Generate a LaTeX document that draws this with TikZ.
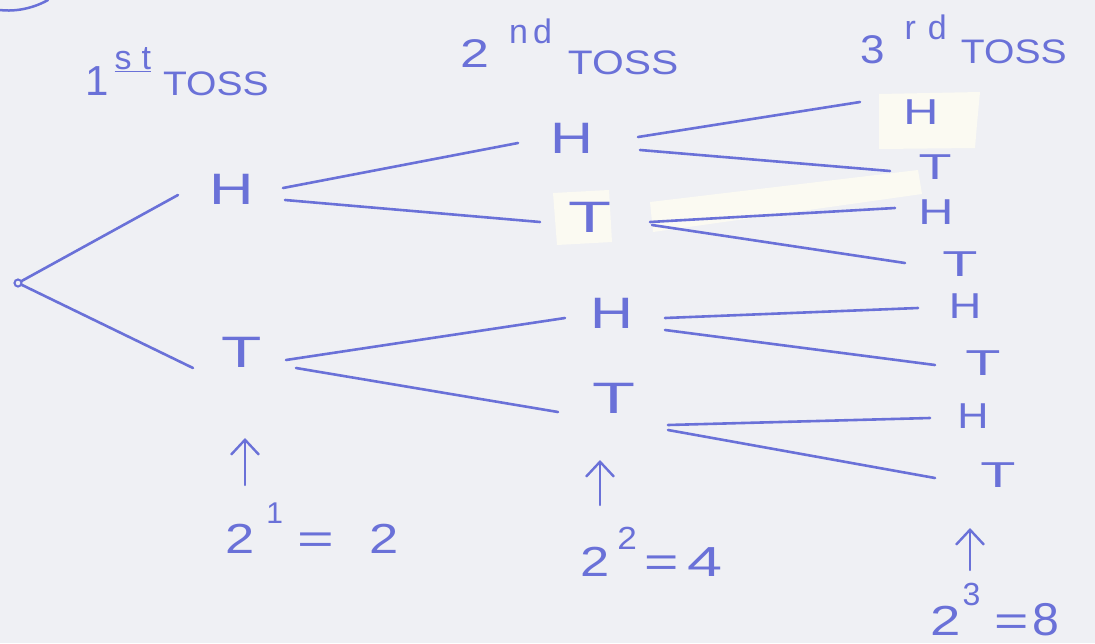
\documentclass[tikz,border=0pt]{standalone}
\usepackage{fontspec}
\setmainfont{Liberation Sans}
\usetikzlibrary{arrows.meta}
\definecolor{ink}{RGB}{106,113,216}
\definecolor{paper}{RGB}{239,240,244}
\definecolor{tape}{RGB}{251,250,242}
% letters stretched sideways, as written by hand
\newcommand\stretchx[2]{\scalebox{#1}[1]{#2}}
\newcommand\fsz[1]{\fontsize{#1}{#1}\selectfont}
\begin{document}
\begin{tikzpicture}[x=1pt,y=-1pt,
  outcome/.style={text=ink,inner sep=0pt,font=\fsz{44}},
  leaf/.style={text=ink,inner sep=0pt,font=\fsz{36}},
  head/.style={text=ink,inner sep=0pt,anchor=base west},
  count/.style={text=ink,inner sep=0pt,anchor=base west,font=\fsz{42}},
  branch/.style={draw=ink,line width=2.6pt,line cap=round},
  uparrow/.style={draw=ink,line width=2.4pt,line cap=round,
    -{Straight Barb[length=15pt,width=28pt,line width=2.4pt]}},
  tapestrip/.style={fill=tape,draw=none}]
% paper
\fill[paper] (0,0) rectangle (1095,643);
\useasboundingbox (0,0) rectangle (1095,643);

% strips of correction tape
\fill[tapestrip] (553,193) -- (609,190) -- (612,242) -- (557,245) -- cycle;
\fill[tapestrip] (879,94) -- (980,92) -- (977,124) -- (975,148) -- (879,149) -- cycle;
\fill[tapestrip] (650,202) -- (918,170) -- (922,194) -- (653,232) -- cycle;

% stray stroke in the corner
\draw[ink,line width=2.5pt,line cap=round] (0,10) .. controls (16,12) and (34,8) .. (48,0);

% column headings
\node[head] (h1st) at (85,95)
  {\fsz{42}1\hspace{6pt}\raisebox{26pt}{\fsz{34}\underline{s\hspace{10pt}t}}\hspace{12pt}\stretchx{1.15}{\fsz{34}TOSS}};
\node[head] (h2nd) at (460,67)
  {\stretchx{1.3}{\fsz{40}2}\hspace{20pt}\raisebox{24pt}{\fsz{34}n\hspace{5pt}d}\hspace{16pt}\raisebox{-7pt}{\stretchx{1.2}{\fsz{34}TOSS}}};
\node[head] (h3rd) at (860,63)
  {\stretchx{1.1}{\fsz{40}3}\hspace{20pt}\raisebox{24pt}{\fsz{34}r\hspace{12pt}d}\hspace{14pt}\stretchx{1.15}{\fsz{34}TOSS}};

% tree
\node[circle,draw=ink,line width=2pt,inner sep=2.5pt] (root) at (18,283) {};

\node[outcome] (h1) at (232,189) {\stretchx{1.4}{H}};
\node[outcome] (t1) at (242,352) {\stretchx{1.5}{T}};

\node[outcome] (h2) at (572,138) {\stretchx{1.35}{H}};
\node[outcome] (t2) at (590,217) {\stretchx{1.6}{T}};
\node[outcome] (h2b) at (612,313) {\stretchx{1.35}{H}};
\node[outcome] (t2b) at (614,398) {\stretchx{1.6}{T}};

\node[leaf] (a1) at (921,112) {\stretchx{1.35}{H}};
\node[leaf] (a2) at (935,167) {\stretchx{1.5}{T}};
\node[leaf] (a3) at (936,212) {\stretchx{1.35}{H}};
\node[leaf] (a4) at (960,264) {\stretchx{1.6}{T}};
\node[leaf] (a5) at (965,306) {\stretchx{1.25}{H}};
\node[leaf] (a6) at (983,363) {\stretchx{1.6}{T}};
\node[leaf] (a7) at (973,416) {\stretchx{1.2}{H}};
\node[leaf] (a8) at (998,475) {\stretchx{1.6}{T}};

\draw[branch] (root) -- ([shift={(-54,6)}]h1.center);
\draw[branch] (root) -- ([shift={(-49,16)}]t1.center);

\draw[branch] ([shift={(51,-1)}]h1.center) -- ([shift={(-54,5)}]h2.center);
\draw[branch] ([shift={(53,11)}]h1.center) -- ([shift={(-50,5)}]t2.center);
\draw[branch] ([shift={(44,8)}]t1.center) -- ([shift={(-47,5)}]h2b.center);
\draw[branch] ([shift={(54,16)}]t1.center) -- ([shift={(-56,14)}]t2b.center);

\draw[branch] ([shift={(66,-1)}]h2.center) -- ([shift={(-61,-10)}]a1.center);
\draw[branch] ([shift={(68,12)}]h2.center) -- ([shift={(-45,4)}]a2.center);
\draw[branch] ([shift={(60,5)}]t2.center) -- ([shift={(-41,-4)}]a3.center);
\draw[branch] ([shift={(62,8)}]t2.center) -- ([shift={(-55,-1)}]a4.center);
\draw[branch] ([shift={(53,5)}]h2b.center) -- ([shift={(-47,2)}]a5.center);
\draw[branch] ([shift={(53,17)}]h2b.center) -- ([shift={(-48,2)}]a6.center);
\draw[branch] ([shift={(54,27)}]t2b.center) -- ([shift={(-43,2)}]a7.center);
\draw[branch] ([shift={(54,32)}]t2b.center) -- ([shift={(-63,3)}]a8.center);

% number of outcomes after each toss
\node[count] (n1) at (225,553)
  {\stretchx{1.25}{2}\hspace{12pt}\raisebox{30pt}{\fsz{30}1}\hspace{14pt}\stretchx{1.5}{=}\hspace{36pt}\stretchx{1.25}{2}};
\node[count] (n2) at (580,576)
  {\stretchx{1.25}{2}\hspace{8pt}\raisebox{27pt}{\fsz{32}\stretchx{1.1}{2}}\hspace{8pt}\stretchx{1.4}{=}\hspace{8pt}\stretchx{1.5}{4}};
\node[count] (n3) at (930,635)
  {\stretchx{1.3}{2}\hspace{2pt}\raisebox{30pt}{\fsz{32}3}\hspace{14pt}\stretchx{1.4}{=}\hspace{4pt}\stretchx{1.05}{\fsz{46}8}};

\draw[uparrow] ([shift={(20,-68)}]n1.base west) -- ([shift={(3,86)}]t1.center);
\draw[uparrow] ([shift={(20,-71)}]n2.base west) -- ([shift={(-14,62)}]t2b.center);
\draw[uparrow] ([shift={(40,-65)}]n3.base west) -- ([shift={(-28,53)}]a8.center);
\end{tikzpicture}
\end{document}
